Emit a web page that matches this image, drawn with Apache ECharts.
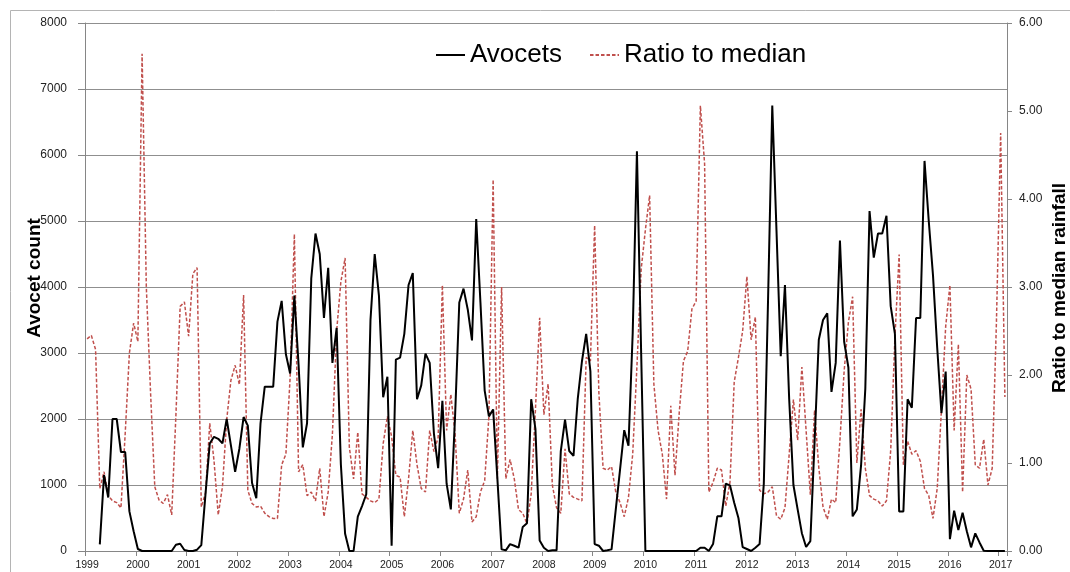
<!DOCTYPE html>
<html>
<head>
<meta charset="utf-8">
<script src="https://cdn.jsdelivr.net/npm/echarts@6/dist/echarts.min.js"></script>
<style>
html,body{margin:0;padding:0;background:#fff;}
#chart{width:1070px;height:572px;}
</style>
</head>
<body>
<div id="chart"></div>
<script>
// Tick labels (years) and monthly categories from Jan 1999 to Feb 2017
const yearLabels = ['1999','2000','2001','2002','2003','2004','2005','2006','2007','2008','2009','2010','2011','2012','2013','2014','2015','2016','2017'];
const monthNames = ['01','02','03','04','05','06','07','08','09','10','11','12'];
const lastMonthOf2017 = 2; // data runs to Feb 2017

// Avocet count (monthly), left axis
const avocets = [
  null,null,null,100,1150,810,2000,2000,1500,1500,600,300,
  30,0,0,0,0,0,0,0,0,95,110,15,
  0,0,20,90,870,1630,1730,1700,1630,2000,1600,1200,
  1550,2030,1900,1030,800,1935,2490,2490,2490,3475,3790,2980,
  2690,3870,2820,1570,1935,4130,4810,4500,3530,4290,2850,3380,
  1310,260,0,0,520,680,860,3500,4500,3870,2330,2640,
  80,2900,2930,3290,4030,4210,2300,2510,2990,2850,1780,1255,
  2275,1020,630,2040,3765,3975,3660,3190,5030,3765,2430,2040,
  2145,1100,25,10,105,80,50,365,420,2300,1850,160,
  50,0,10,10,1515,1990,1515,1440,2300,2875,3290,2720,
  105,80,0,10,25,630,1230,1830,1595,3300,6055,3000,
  0,0,0,0,0,0,0,0,0,0,0,0,
  0,50,50,0,105,525,525,1020,995,730,500,60,
  30,0,50,105,1020,3800,6750,4850,2950,4030,2300,1000,
  630,270,60,150,1650,3200,3500,3600,2410,2850,4705,3170,
  2780,525,630,1300,2460,5150,4445,4810,4810,5080,3710,3290,
  600,600,2300,2170,3530,3530,5910,5000,4180,3080,2090,2720,
  180,611,318,580,300,55,267,130,5,0,0,0,
  0,0
];

// Ratio to median rainfall (monthly), right axis
const ratioToMedian = [
  2.41,2.45,2.29,0.71,0.90,0.63,0.57,0.55,0.49,1.33,2.25,2.59,
  2.38,5.65,3.00,1.80,0.73,0.58,0.54,0.64,0.41,1.55,2.78,2.83,
  2.44,3.15,3.22,0.50,0.66,1.45,1.03,0.41,0.73,1.49,1.94,2.11,
  1.89,2.91,0.69,0.54,0.50,0.51,0.43,0.39,0.37,0.37,0.98,1.10,
  1.97,3.60,0.90,0.98,0.63,0.67,0.57,0.94,0.39,0.67,1.33,2.50,
  3.06,3.33,1.18,0.82,1.35,0.65,0.61,0.57,0.55,0.59,1.22,1.53,
  1.30,0.86,0.84,0.39,0.82,1.37,0.98,0.71,0.67,1.37,1.13,1.29,
  3.02,1.37,1.78,1.33,0.43,0.59,0.92,0.33,0.39,0.67,0.80,1.53,
  4.22,0.82,3.00,0.82,1.04,0.82,0.47,0.43,0.31,0.65,1.60,2.65,
  1.55,1.90,0.75,0.49,0.43,1.16,0.65,0.61,0.59,0.57,2.20,2.16,
  3.70,1.80,0.94,0.92,0.96,0.67,0.55,0.39,0.61,1.10,2.10,3.20,
  3.65,4.04,1.90,1.37,1.10,0.59,1.65,0.86,1.57,2.16,2.27,2.75,
  2.84,5.06,4.40,0.67,0.78,0.94,0.92,0.51,0.78,1.92,2.20,2.50,
  3.12,2.40,2.66,0.69,0.65,0.67,0.73,0.40,0.36,0.49,1.10,1.72,
  1.26,2.09,1.37,0.64,1.60,0.95,0.50,0.36,0.59,0.55,1.26,2.05,
  2.60,2.89,1.00,1.61,0.94,0.63,0.59,0.57,0.51,0.57,1.14,2.43,
  3.37,0.98,1.25,1.10,1.14,1.02,0.71,0.63,0.37,0.71,1.61,2.55,
  3.02,1.37,2.35,0.67,2.00,1.84,0.98,0.94,1.27,0.75,0.94,2.60,
  4.75,1.75
];

const seriesNames = ['Avocets','Ratio to median'];
const leftAxisName = 'Avocet count';
const rightAxisName = 'Ratio to median rainfall';

const categories = [];
yearLabels.forEach(function(y, yi){
  const n = (yi === yearLabels.length - 1) ? lastMonthOf2017 : 12;
  for (let k = 0; k < n; k++) categories.push(y + '-' + monthNames[k]);
});

const FONT = '"Liberation Sans", Arial, sans-serif';
const chart = echarts.init(document.getElementById('chart'), null, {renderer:'canvas'});
const isJan = function(idx){ return idx % 12 === 0; };

chart.setOption({
  animation: false,
  backgroundColor: '#ffffff',
  textStyle: {fontFamily: FONT},
  grid: {left: 85, right: 63, top: 23, bottom: 21, containLabel: false},
  legend: {
    left: 430, top: 37,
    itemWidth: 29, itemHeight: 14, itemGap: 27,
    itemStyle: {opacity: 0},
    textStyle: {fontSize: 26, color: '#000', fontFamily: FONT},
    data: seriesNames
  },
  xAxis: {
    type: 'category',
    data: categories,
    boundaryGap: true,
    axisLine: {lineStyle: {color: '#868686', width: 1}},
    axisTick: {show: true, interval: function(i){ return isJan(i); }, length: 5, lineStyle: {color: '#868686'}},
    axisLabel: {
      interval: function(i){ return isJan(i); },
      formatter: function(v){ return v.slice(0,4); },
      fontSize: 10.5, color: '#222', margin: 9, fontFamily: FONT
    },
    splitLine: {show: false}
  },
  yAxis: [
    {
      type: 'value', min: 0, max: 8000, interval: 1000,
      axisLine: {show: true, lineStyle: {color: '#868686'}},
      axisTick: {show: true, length: 7, lineStyle: {color: '#868686'}},
      axisLabel: {fontSize: 12, color: '#222', margin: 18, fontFamily: FONT,
        formatter: function(v){ return String(v); }},
      splitLine: {show: true, lineStyle: {color: '#8f8f8f', width: 1}}
    },
    {
      type: 'value', min: 0, max: 6, interval: 1, position: 'right',
      axisLine: {show: true, lineStyle: {color: '#868686'}},
      axisTick: {show: true, length: 5, lineStyle: {color: '#868686'}},
      axisLabel: {fontSize: 12, color: '#222', margin: 12, fontFamily: FONT,
        formatter: function(v){ return v.toFixed(2); }},
      splitLine: {show: false}
    }
  ],
  series: [
    {
      name: seriesNames[0], type: 'line', yAxisIndex: 0,
      data: avocets, symbol: 'none', showSymbol: false, connectNulls: false,
      lineStyle: {color: '#000000', width: 2},
      itemStyle: {color: '#000000'}, z: 3
    },
    {
      name: seriesNames[1], type: 'line', yAxisIndex: 1,
      data: ratioToMedian, symbol: 'none', showSymbol: false,
      lineStyle: {color: '#C0504D', width: 1.5, type: [3.5, 2]},
      itemStyle: {color: '#C0504D'}, z: 2
    }
  ],
  graphic: [
    {type: 'rect', silent: true, z: -1, shape: {x: 10.5, y: 10.5, width: 1100, height: 600},
      style: {fill: 'none', stroke: '#b4b4b4', lineWidth: 1}},
    {type: 'text', x: 35, y: 278, rotation: Math.PI/2,
      style: {text: leftAxisName, font: 'bold 19px ' + FONT, fill: '#000', textAlign: 'center', textVerticalAlign: 'middle'}},
    {type: 'text', x: 1060, y: 288, rotation: Math.PI/2,
      style: {text: rightAxisName, font: 'bold 19px ' + FONT, fill: '#000', textAlign: 'center', textVerticalAlign: 'middle'}}
  ]
});
</script>
</body>
</html>
